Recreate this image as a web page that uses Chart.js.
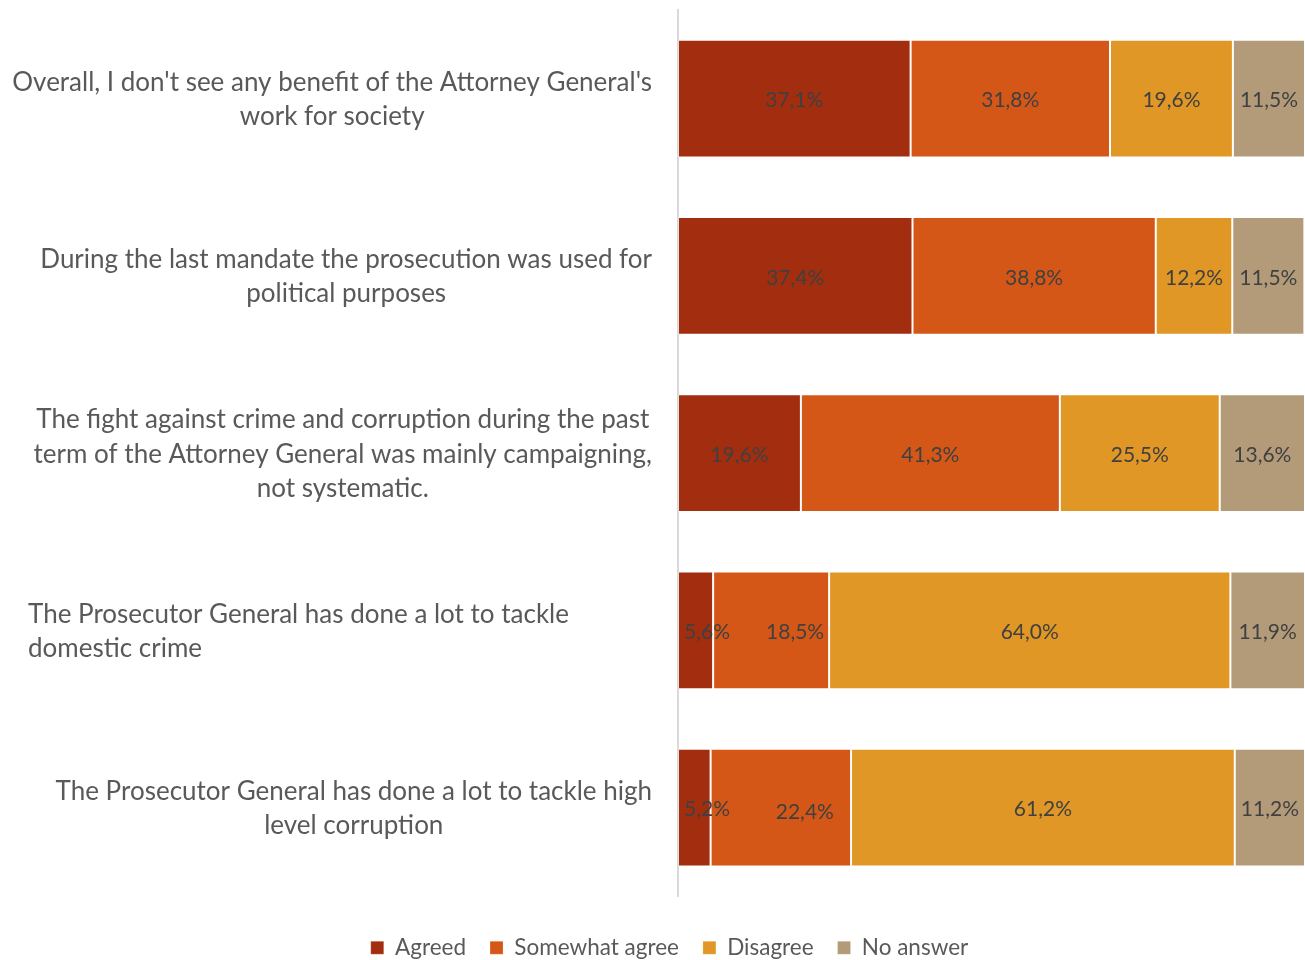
<!DOCTYPE html>
<html>
<head>
<meta charset="utf-8">
<script src="https://cdn.jsdelivr.net/npm/chart.js@4.4.1/dist/chart.umd.min.js"></script>
<style>
  html, body { margin: 0; padding: 0; overflow: hidden; background: #fff; }
</style>
</head>
<body>
<canvas id="chart" width="1305" height="969"></canvas>
<script>
let statements = [
    ["Overall, I don't see any benefit of the Attorney General's", "work for society"],
    ["During the last mandate the prosecution was used for", "political purposes"],
    ["The fight against crime and corruption during the past", "term of the Attorney General was mainly campaigning,", "not systematic."],
    ["The Prosecutor General has done a lot to tackle", "domestic crime"],
    ["The Prosecutor General has done a lot to tackle high", "level corruption"]
]
let seriesNames = ['Agreed', 'Somewhat agree', 'Disagree', 'No answer']
let agreed = [37.1, 37.4, 19.6, 5.6, 5.2]
let somewhatAgree = [31.8, 38.8, 41.3, 18.5, 22.4]
let disagree = [19.6, 12.2, 25.5, 64.0, 61.2]
let noAnswer = [11.5, 11.5, 13.6, 11.9, 11.2]

const FONT = 'Lato'
const colors = ['#A32D0F', '#D55717', '#E09726', '#B39B7A']

// a couple of labels sit a little off centre so they clear the narrow ones
const nudge = { '1,3': [24, 0], '1,4': [24, 3] }

// percentages printed inside each segment, decimal comma
const valueLabels = {
    id: 'valueLabels',
    afterDatasetsDraw(chart) {
        const ctx = chart.ctx
        ctx.save()
        ctx.font = '21px ' + FONT
        ctx.fillStyle = '#404040'
        ctx.textBaseline = 'middle'
        chart.data.datasets.forEach((ds, di) => {
            chart.getDatasetMeta(di).data.forEach((bar, i) => {
                const text = ds.data[i].toFixed(1).replace('.', ',') + '%'
                const w = ctx.measureText(text).width
                const left = Math.min(bar.x, bar.base)
                const width = Math.abs(bar.x - bar.base)
                const [dx, dy] = nudge[di + ',' + i] || [0, 0]
                const y = bar.y + 2 + dy
                if (w > width - 4) {
                    ctx.textAlign = 'left'
                    ctx.fillText(text, left + 6 + dx, y)
                } else {
                    ctx.textAlign = 'center'
                    ctx.fillText(text, left + width / 2 + dx, y)
                }
            })
        })
        ctx.restore()
    }
}

// wrapped statement text left of the axis
const statementLabels = {
    id: 'statementLabels',
    afterDraw(chart) {
        const ctx = chart.ctx
        const yScale = chart.scales.y
        const right = chart.chartArea.left - 26
        const lineGap = 34.3
        ctx.save()
        ctx.font = '26px ' + FONT
        ctx.fillStyle = '#595959'
        ctx.textBaseline = 'middle'
        statements.forEach((lines, i) => {
            const cy = yScale.getPixelForValue(i) + 1
            const widest = Math.max(...lines.map(l => ctx.measureText(l).width))
            const top = cy - (lines.length - 1) * lineGap / 2
            lines.forEach((line, j) => {
                if (i === 3) {
                    ctx.textAlign = 'left'
                    ctx.fillText(line, 28, top + j * lineGap)
                } else {
                    ctx.textAlign = 'center'
                    ctx.fillText(line, right - widest / 2, top + j * lineGap)
                }
            })
        })
        ctx.restore()
    }
}

var ctx = document.getElementById('chart').getContext('2d')

var myChart = new Chart(ctx, {
    type: 'bar',
    data: {
        labels: statements,
        datasets: [agreed, somewhatAgree, disagree, noAnswer].map((values, i) => ({
            label: seriesNames[i],
            data: values,
            backgroundColor: colors[i],
            borderColor: 'rgba(255,255,255,0.22)',
            borderWidth: 1,
            borderSkipped: false,
            barPercentage: 0.665,
            categoryPercentage: 1
        }))
    },
    options: {
        indexAxis: 'y',
        responsive: false,
        animation: false,
        layout: {
            padding: { left: 34, right: 0, top: 10, bottom: 0 }
        },
        scales: {
            x: {
                stacked: true,
                display: false,
                min: 0,
                max: 100
            },
            y: {
                stacked: true,
                grid: { display: false },
                border: { display: true, color: '#D9D9D9', width: 2 },
                ticks: { display: false },
                afterFit: (scale) => { scale.width = 644 }
            }
        },
        plugins: {
            tooltip: { enabled: false },
            legend: {
                position: 'bottom',
                title: { display: true, text: '', padding: 7.5, font: { size: 1 } },
                labels: {
                    boxWidth: 13,
                    boxHeight: 13,
                    padding: 24,
                    color: '#595959',
                    font: { family: FONT, size: 22.5 }
                }
            }
        }
    },
    plugins: [valueLabels, statementLabels]
})
</script>
</body>
</html>
